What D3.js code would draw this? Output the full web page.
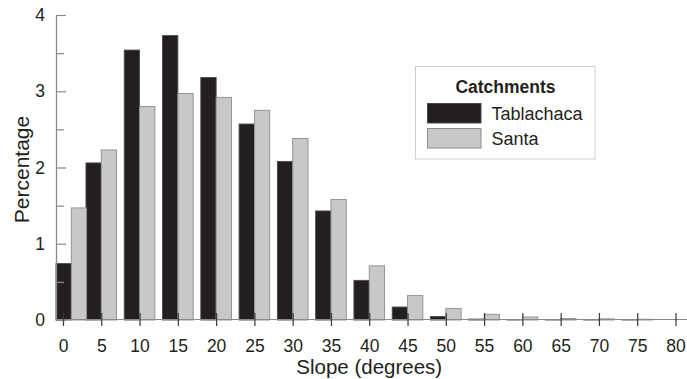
<!DOCTYPE html>
<html>
<head>
<meta charset="utf-8">
<script src="https://cdn.jsdelivr.net/npm/d3@7"></script>
<style>
  body { margin: 0; background: #fff; }
  text { font-family: "Liberation Sans", Arial, sans-serif; fill: #231f20; }
</style>
</head>
<body>
<div id="graph"></div>
<script>
const W = 687, H = 379;

// slope bins (degrees)
const slopes = [0, 5, 10, 15, 20, 25, 30, 35, 40, 45, 50, 55, 60, 65, 70, 75, 80];
// percentage per bin
const tablachaca = [0.74, 2.06, 3.54, 3.73, 3.18, 2.57, 2.08, 1.43, 0.52, 0.17, 0.045, 0.012, 0.006, 0.005, 0.004, 0.003, 0];
const santa = [1.47, 2.23, 2.80, 2.97, 2.92, 2.75, 2.38, 1.58, 0.71, 0.32, 0.15, 0.075, 0.04, 0.02, 0.015, 0.01, 0];
const yTicks = [0, 1, 2, 3, 4];
const seriesNames = ["Tablachaca", "Santa"];
const seriesColors = ["#231f20", "#c8c8ca"];
const seriesStroke = ["#4a4a4a", "#8d8d8d"];

const axisX = 56;
const x = d3.scaleLinear().domain([0, 80]).range([63, 675.5]);
const y = d3.scaleLinear().domain([0, 4]).range([320, 15]);
const bw = (x(5) - x(0)) * 0.4;

const svg = d3.select("#graph").append("svg")
  .attr("width", W)
  .attr("height", H);

// bars: black left of the tick, grey right of it; first group pushed off the axis
const shift = (v) => Math.max(0, axisX - (x(v) - bw));
const bars = svg.append("g");
[tablachaca, santa].forEach((vals, s) => {
  bars.selectAll(null)
    .data(slopes.map((v, i) => ({ v, p: vals[i] })))
    .enter()
    .append("rect")
    .attr("x", (d) => x(d.v) - bw + s * bw + shift(d.v))
    .attr("y", (d) => y(d.p))
    .attr("width", bw)
    .attr("height", (d) => y(0) - y(d.p))
    .attr("fill", seriesColors[s])
    .attr("stroke", seriesStroke[s])
    .attr("stroke-width", 0.9);
});

// y axis, ticks pointing inwards
const yMinor = d3.axisLeft(y).tickValues(d3.range(0.5, 4, 1)).tickSize(-8).tickFormat("");
svg.append("g")
  .attr("transform", `translate(${axisX},0)`)
  .call(yMinor)
  .call((g) => g.select(".domain").remove())
  .call((g) => g.selectAll(".tick line").attr("stroke", "#8a8a8a").attr("stroke-width", 1.2));

const yAxis = d3.axisLeft(y).tickValues(yTicks).tickFormat(d3.format("d"))
  .tickSizeInner(-10).tickSizeOuter(0).tickPadding(11);
svg.append("g")
  .attr("transform", `translate(${axisX},0)`)
  .call(yAxis)
  .call((g) => g.select(".domain").attr("stroke", "#8a8a8a").attr("stroke-width", 1.3))
  .call((g) => g.selectAll(".tick line").attr("stroke", "#8a8a8a").attr("stroke-width", 1.2))
  .call((g) => g.selectAll("text").style("font-size", "17.5px").attr("fill", "#231f20").style("font-family", "'Liberation Sans', Arial, sans-serif"));

// baseline
svg.append("line")
  .attr("x1", axisX).attr("x2", W)
  .attr("y1", y(0) - 0.5).attr("y2", y(0) - 0.5)
  .attr("stroke", "#8a8a8a")
  .attr("stroke-width", 1.2);

// x axis, ticks crossing the baseline
const xAxis = d3.axisBottom(x).tickValues(slopes).tickSizeInner(6).tickSizeOuter(0).tickPadding(13.5);
svg.append("g")
  .attr("transform", `translate(0,${y(0)})`)
  .call(xAxis)
  .call((g) => g.select(".domain").remove())
  .call((g) => g.selectAll(".tick line").attr("y1", -7).attr("stroke", "#3a3a3a").attr("stroke-width", 1.2))
  .call((g) => g.selectAll("text").style("font-size", "17.5px").attr("fill", "#231f20").style("font-family", "'Liberation Sans', Arial, sans-serif"));

// axis titles
svg.append("text")
  .attr("x", x(40))
  .attr("y", 374)
  .attr("text-anchor", "middle")
  .style("font-size", "20.5px")
  .text("Slope (degrees)");

svg.append("text")
  .attr("transform", `translate(29,${(y(0) + y(4)) / 2 + 2}) rotate(-90)`)
  .attr("text-anchor", "middle")
  .style("font-size", "21px")
  .text("Percentage");

// legend
const lg = svg.append("g").attr("transform", "translate(415.5,66.5)");
lg.append("rect")
  .attr("width", 179.5)
  .attr("height", 92.5)
  .attr("fill", "#fff")
  .attr("stroke", "#cfcfcf")
  .attr("stroke-width", 1);
lg.append("text")
  .attr("x", 90)
  .attr("y", 26.5)
  .attr("text-anchor", "middle")
  .style("font-size", "17.5px")
  .style("font-weight", "bold")
  .text("Catchments");
const items = lg.selectAll("g.item")
  .data(seriesNames)
  .enter()
  .append("g")
  .attr("class", "item")
  .attr("transform", (d, i) => `translate(12,${37 + i * 25})`);
items.append("rect")
  .attr("width", 53.5)
  .attr("height", 19.5)
  .attr("fill", (d, i) => seriesColors[i])
  .attr("stroke", (d, i) => seriesStroke[i])
  .attr("stroke-width", 1);
items.append("text")
  .attr("x", 64)
  .attr("y", 16)
  .style("font-size", "18px")
  .text((d) => d);
</script>
</body>
</html>
